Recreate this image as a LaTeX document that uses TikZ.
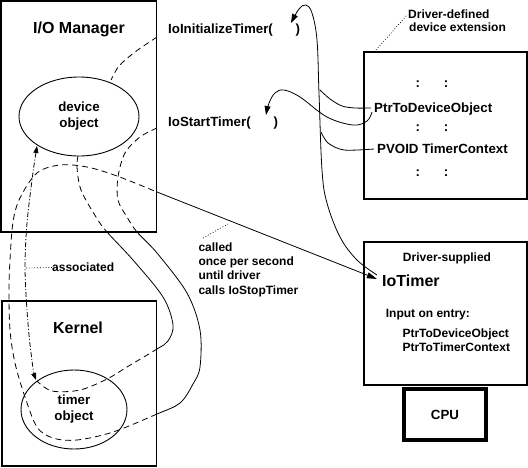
\documentclass[tikz,border=0pt]{standalone}
\usepackage{fontspec}
\setmainfont{Liberation Sans}
\usetikzlibrary{arrows.meta,shapes.geometric}
\begin{document}
\begin{tikzpicture}[x=1pt,y=-1pt,
  lbl/.style={font=\fontsize{13.3}{16}\selectfont\bfseries, inner sep=0pt},
  sm/.style={font=\fontsize{12}{14}\selectfont\bfseries, inner sep=0pt},
  ttl/.style={font=\fontsize{16}{19}\selectfont\bfseries, inner sep=0pt},
  bigbox/.style={draw, line width=1.8pt, inner sep=0pt},
  midbox/.style={draw, line width=1.5pt, inner sep=0pt},
  cpubox/.style={draw, line width=4pt, inner sep=0pt, font=\fontsize{13.3}{16}\selectfont\bfseries},
  obj/.style={draw, ellipse, line width=0.9pt, inner sep=0pt, align=center, font=\fontsize{13.3}{16}\selectfont\bfseries},
  conn/.style={line width=0.8pt},
  dsh/.style={line width=0.8pt, dash pattern=on 6pt off 4pt},
  dashdot/.style={line width=0.8pt, dash pattern=on 5pt off 2pt on 1pt off 2pt},
  dots/.style={line width=0.7pt, dash pattern=on 0.8pt off 2pt},
  tipA/.style={-{Triangle[length=9pt,width=6pt]}},
  leftcurve/.style={insert path={plot[smooth,tension=0.55] coordinates {(devb) (77,167) (81,190) (96,217) (107,232) (133,260) (163,297) (173,325) (168,341) (157,349) (127,367) (107,379) (80,390) (52,391) (tmrt)}}},
  rightloop/.style={insert path={plot[smooth,tension=0.55] coordinates {(stP) (140,137) (125,153) (118,177) (118,200) (127,217) (137,232) (157,253) (187,293) (200,330) (200,367) (193,384) (180,403) (157,414) (113,432) (77,440) (53,438) (37,427) (25,397) (15,363) (10,330) (9,290) (10,260) (13,222) (20,198) (37,173) (60,165) (87,167) (117,176) (humpE)}}},
  ]
\useasboundingbox (0,0) rectangle (528,467);

% boxes
\node[bigbox, minimum width=155.5pt, minimum height=231pt] (iom) at (78.75,116.5) {};
\node[bigbox, minimum width=154.5pt, minimum height=164.7pt] (ker) at (79.25,383.35) {};
\node[midbox, minimum width=163pt, minimum height=147pt] (ext) at (445.5,125.5) {};
\node[midbox, minimum width=163pt, minimum height=143pt] (sup) at (445.5,313.5) {};
\node[cpubox, minimum width=82pt, minimum height=51pt] (cpu) at (445,414.5) {CPU};

% titles
\node[ttl, anchor=base] (iomt) at (79,33.5) {I/O Manager};
\node[ttl, anchor=base] (kert) at (78,333.5) {Kernel};

% objects
\node[obj, minimum width=120pt, minimum height=79pt] (dev) at (79,116.5) {device\\object};
\node[obj, minimum width=106pt, minimum height=79pt] (tmr) at (74,409.5) {timer\\object};

% function call labels
\node[lbl, anchor=base west] (init) at (168,33.3) {IoInitializeTimer(};
\node[lbl, anchor=base west] (initc) at (295.5,33.3) {)};
\node[lbl, anchor=base west] (start) at (168,126.7) {IoStartTimer(};
\node[lbl, anchor=base west] (startc) at (273.5,126.7) {)};

% device extension
\node[sm, anchor=base west] (dd1) at (408,18.5) {Driver-defined};
\node[sm, anchor=base west] (dd2) at (409,31.5) {device extension};
\node[lbl, anchor=base] (c1) at (432,87.5) {:\hspace{24pt}:};
\node[lbl, anchor=base west] (ptr) at (374,112.7) {PtrToDeviceObject};
\node[lbl, anchor=base] (c2) at (432,131.7) {:\hspace{24pt}:};
\node[lbl, anchor=base west] (pvoid) at (377,153.3) {PVOID TimerContext};
\node[lbl, anchor=base] (c3) at (432,176.7) {:\hspace{24pt}:};

% driver supplied
\node[sm, anchor=base] (ds) at (447,261.7) {Driver-supplied};
\node[ttl, anchor=base west] (iot) at (382,286.7) {IoTimer};
\node[sm, anchor=base west] (inp) at (385.7,317.3) {Input on entry:};
\node[sm, anchor=base west] (in1) at (402.3,337.3) {PtrToDeviceObject};
\node[sm, anchor=base west] (in2) at (402.3,351.7) {PtrToTimerContext};

% called label
\node[sm, anchor=base west] (cl1) at (198.3,251.7) {called};
\node[sm, anchor=base west] (cl2) at (198.3,265.7) {once per second};
\node[sm, anchor=base west] (cl3) at (198.3,279.9) {until driver};
\node[sm, anchor=base west] (cl4) at (198.3,294) {calls IoStopTimer};

% associated
\node[sm, anchor=base west] (asc) at (52,271.7) {associated};

% coordinates
\coordinate (devb) at (78,156);
\coordinate (tmrt) at (37,381);
\coordinate (stP) at (157,128);
\coordinate (humpE) at (157,192);
\coordinate (initP) at (157,37);
\coordinate (iotL) at (377,275);
\coordinate (ptrA) at (372,112);
\coordinate (ptrB) at (371,108);
\coordinate (pvoidA) at (374,149);
\coordinate (devbl) at (37,146);
\coordinate (tmrtl) at (36,380);
\coordinate (ascP) at (26,268);
\coordinate (calP) at (203,238);
\coordinate (calQ) at (228,224);
\coordinate (extP) at (376,50);
\coordinate (extQ) at (407,15);

% dashed inside / solid outside
\begin{scope}
\clip (0,0) rectangle (156.5,232) (0,232) rectangle (60,301) (0,301) rectangle (156.5,467);
\draw[dsh, leftcurve];
\draw[dsh, rightloop];
\end{scope}
\begin{scope}
\clip (60,232) rectangle (156.5,301) (156.5,0) rectangle (528,467);
\draw[conn, leftcurve];
\draw[conn, rightloop];
\end{scope}

\draw[dsh] plot[smooth] coordinates {(initP) (135,52) (119,66) (111,80)};

% timer routine call
\draw[conn, -{Triangle[length=10pt,width=6pt]}, shorten >=5.5pt] (humpE) -- (iot.west);

% long curve to IoInitializeTimer
\draw[conn, tipA] plot[smooth, tension=0.6] coordinates {(iotL) (357,260) (340,237) (327,203) (322,170) (319,93) (317,40) (312,13) (306,5) (299,9) (291,23)};

% device extension pointers
\draw[conn, tipA] plot[smooth, tension=0.6] coordinates {(ptrA) (367,121) (353,125) (327,117) (300,97) (284,90) (275,93) (269,103) (266,115)};
\draw[conn] plot[smooth] coordinates {(ptrB) (355,108) (342,106) (330,99) (320,90)};
\draw[conn] plot[smooth] coordinates {(pvoidA) (344,150) (328,143) (321,132)};

% associated dash-dot
\draw[dashdot, {Triangle[length=7pt,width=5pt]}-{Triangle[length=7pt,width=5pt]}] plot[smooth] coordinates {(devbl) (32,180) (27,223) (25,262) (26,295) (29,335) (33,368) (tmrtl)};

% leaders
\draw[dots] (ascP) -- (asc.west);
\draw[dots] (calP) -- (calQ);
\draw[dots] (extP) -- (extQ);
\end{tikzpicture}
\end{document}
